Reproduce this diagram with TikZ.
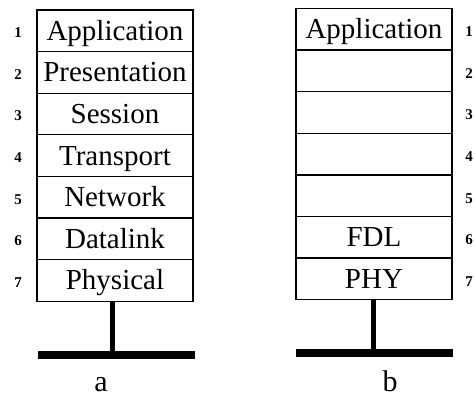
\documentclass[tikz,border=0pt]{standalone}
\usepackage{fontspec}
\setmainfont{Liberation Serif}
\begin{document}
\begin{tikzpicture}[x=1pt,y=-1pt,
  layer/.style={draw,line width=1.3pt,minimum width=156pt,minimum height=41.6pt,inner sep=0pt,
    text height=23pt,text depth=4pt,font=\fontsize{29}{30}\selectfont},
  num/.style={font=\fontsize{15}{16}\selectfont\bfseries,inner sep=0pt},
  bar/.style={fill=black,minimum width=157pt,minimum height=8pt,inner sep=0pt},
  stem/.style={line width=5pt},
  lbl/.style={font=\fontsize{30}{32}\selectfont,inner sep=0pt,anchor=base}]
\useasboundingbox (0,0) rectangle (475,398);
% left stack
\foreach \t [count=\i] in {Application,Presentation,Session,Transport,Network,Datalink,Physical}{
  \node[layer] (a\i) at (115,{10+41.6*(\i-0.5)}) {\t};
  \node[num] (na\i) at (18,{12+41.6*(\i-0.5)}) {\i};
}
\node[bar] (abar) at (116,355) {};
\draw[stem] (a7.south -| 112,0) -- (abar.north -| 112,0);
\node[lbl] (la) at (101,392) {a};
% right stack
\foreach \t [count=\i] in {Application,,,,,FDL,PHY}{
  \node[layer] (b\i) at (374,{8.5+41.6*(\i-0.5)}) {\t};
  \node[num] (nb\i) at (469,{11+41.6*(\i-0.5)}) {\i};
}
\node[bar] (bbar) at (374.5,353.5) {};
\draw[stem] (b7.south -| 373,0) -- (bbar.north -| 373,0);
\node[lbl] (lb) at (390,392) {b};
\end{tikzpicture}
\end{document}
